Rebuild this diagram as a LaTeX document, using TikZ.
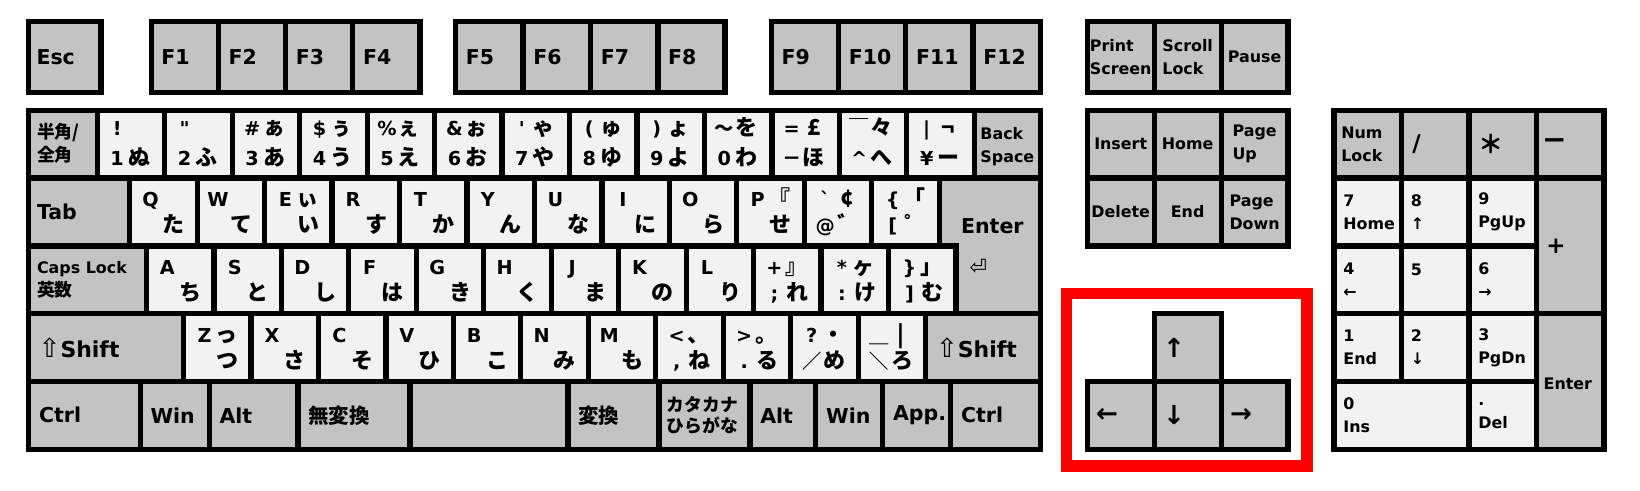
\documentclass[tikz,border=0pt]{standalone}
\usepackage{fontspec}
\setmainfont{DejaVu Sans}
\newfontfamily\jp{Noto Sans CJK JP}
\definecolor{keygray}{HTML}{C3C3C3}
\definecolor{keylight}{HTML}{F2F2F2}
\definecolor{markred}{HTML}{FF0000}
\tikzset{
  modkey/.style={draw=black, line width=2.5pt, fill=keygray},
  charkey/.style={draw=black, line width=2.5pt, fill=keylight},
  keytext/.style={font=\bfseries\fontsize{9.8}{11}\selectfont, inner sep=0pt, anchor=west, align=left},
  smalltext/.style={font=\bfseries\fontsize{7.6}{11}\selectfont, inner sep=0pt, anchor=west, align=left},
  latin/.style={font=\bfseries\fontsize{9.2}{10}\selectfont, inner sep=0pt, text height=6.8pt, text depth=0pt},
  kana/.style={font=\jp\bfseries\fontsize{10.5}{11}\selectfont, inner sep=0pt, text height=8.2pt, text depth=1.4pt},
  bigsym/.style={font=\bfseries\fontsize{12.5}{12}\selectfont, inner sep=0pt},
}

\begin{document}
\begin{tikzpicture}[x=0.5pt, y=-0.5pt]
    \fill[white] (0,0) rectangle (1568,469);
    \useasboundingbox (0,0) rectangle (1568,469);

    % Function row
    \draw[modkey] (27.5,20.5) rectangle (96.5,88.5);
    \node[keytext] (esc) at (34.5,54.5) {Esc};
    \foreach \x [count=\f] in {144.5,208.75,273,337.25,435.5,500,564.5,629,737.5,801.75,866,930.25}{
        \draw[modkey] (\x,20.5) rectangle ++(64.25,68);
        \node[keytext] (f\f) at (\x+9.5,54.5) {F\f};
    }

    % Number row
    \draw[modkey] (27.5,105.5) rectangle (93,170.3);
    \node[smalltext, font=\jp\bfseries\fontsize{8.5}{11}\selectfont] (hankaku) at (35,137) {半角/\\全角};
    \foreach \tl/\tr/\bl/\br [count=\i from 0] in {!/{}/1/ぬ, \textquotedbl/{}/2/ふ, \#/ぁ/3/あ, \$/ぅ/4/う, \%/ぇ/5/え, \&/ぉ/6/お, \textquotesingle/ゃ/7/や, {(}/ゅ/8/ゆ, {)}/ょ/9/よ, {\jp 〜}/を/0/わ, =/£/{\jp －}/ほ, {\jp ￣}/々/\textasciicircum/へ, |/¬/¥/ー}{
        \pgfmathsetmacro{\kx}{93+64.5*\i}
        \draw[charkey] (\kx,105.5) rectangle ++(64.5,64.8);
        \node[latin] (a\i-tl) at (\kx+19,122.5) {\tl};
        \node[kana] (a\i-tr) at (\kx+40,122.5) {\tr};
        \node[latin] (a\i-bl) at (\kx+19,151.5) {\bl};
        \node[kana] (a\i-br) at (\kx+40,151.5) {\br};
    }
    \draw[modkey] (931.5,105.5) rectangle (994.5,170.3);
    \node[smalltext] (bksp) at (937,140.3) {Back\\Space};

    % Upper letter row
    \draw[modkey] (27.5,170.3) rectangle (124,235.1);
    \node[keytext] (tab) at (35,202.7) {Tab};
    \foreach \tl/\tr/\bl/\br [count=\i from 0] in {Q/{}/{}/た, W/{}/{}/て, E/ぃ/{}/い, R/{}/{}/す, T/{}/{}/か, Y/{}/{}/ん, U/{}/{}/な, I/{}/{}/に, O/{}/{}/ら, P/『/{}/せ, \textasciigrave/¢/@/゛, \{/「/{[}/゜}{
        \pgfmathsetmacro{\kx}{124+64.5*\i}
        \draw[charkey] (\kx,170.3) rectangle ++(64.5,64.8);
        \node[latin] (b\i-tl) at (\kx+20,190.8) {\tl};
        \node[kana] (b\i-tr) at (\kx+41,190.8) {\tr};
        \node[latin] (b\i-bl) at (\kx+20,215.8) {\bl};
        \node[kana] (b\i-br) at (\kx+42,215.8) {\br};
    }

    % Home row
    \draw[modkey] (27.5,235.1) rectangle (140,299.9);
    \node[smalltext] (caps) at (35,267.5) {Caps Lock\\{\jp\fontsize{8.5}{10.5}\selectfont 英数}};
    \foreach \tl/\tr/\bl/\br [count=\i from 0] in {A/{}/{}/ち, S/{}/{}/と, D/{}/{}/し, F/{}/{}/は, G/{}/{}/き, H/{}/{}/く, J/{}/{}/ま, K/{}/{}/の, L/{}/{}/り, +/』/;/れ, */ヶ/:/け, \}/」/{]}/む}{
        \pgfmathsetmacro{\kx}{140+64.5*\i}
        \draw[charkey] (\kx,235.1) rectangle ++(64.5,64.8);
        \node[latin] (c\i-tl) at (\kx+20,255.6) {\tl};
        \node[kana] (c\i-tr) at (\kx+41,255.6) {\tr};
        \node[latin] (c\i-bl) at (\kx+20,280.6) {\bl};
        \node[kana] (c\i-br) at (\kx+42,280.6) {\br};
    }

    % Enter key
    \draw[modkey] (898,170.3) -- (994.5,170.3) -- (994.5,299.9) -- (914,299.9) -- (914,235.1) -- (898,235.1) -- cycle;
    \node[keytext] (enter) at (918.5,216) {Enter};
    \node[font=\fontsize{10}{10}\selectfont, inner sep=0pt] (ret) at (935.5,255) {⏎};

    % Lower letter row
    \draw[modkey] (27.5,299.9) rectangle (175.5,364.7);
    \node[keytext, font=\bfseries\fontsize{10.5}{11}\selectfont] (lshift) at (36.5,332.3) {{\mdseries\fontsize{12.5}{9}\selectfont ⇧}Shift};
    \foreach \tl/\tr/\bl/\br [count=\i from 0] in {Z/っ/{}/つ, X/{}/{}/さ, C/{}/{}/そ, V/{}/{}/ひ, B/{}/{}/こ, N/{}/{}/み, M/{}/{}/も, </、/{,}/ね, >/。/./る, ?/・/{\jp ／}/め, {\jp ＿}/|/{\jp ＼}/ろ}{
        \pgfmathsetmacro{\kx}{175.5+64.5*\i}
        \draw[charkey] (\kx,299.9) rectangle ++(64.5,64.8);
        \node[latin] (d\i-tl) at (\kx+20,320.4) {\tl};
        \node[kana] (d\i-tr) at (\kx+41,320.4) {\tr};
        \node[latin] (d\i-bl) at (\kx+20,345.4) {\bl};
        \node[kana] (d\i-br) at (\kx+42,345.4) {\br};
    }
    \draw[modkey] (885,299.9) rectangle (994.5,364.7);
    \node[keytext, font=\bfseries\fontsize{10.5}{11}\selectfont] (rshift) at (894.5,332.3) {{\mdseries\fontsize{12.5}{9}\selectfont ⇧}Shift};

    % Bottom row
    \foreach \xa/\xb/\t [count=\i] in {27.5/134/Ctrl, 134/200/Win, 200/285/Alt, 285/392/{\jp 無変換}, 392/543/{}, 543/630/{\jp 変換}, 717/780/Alt, 780/844/Win, 844/909/App., 909/994.5/Ctrl}{
        \draw[modkey] (\xa,364.7) rectangle (\xb,429.5);
        \node[keytext] (m\i) at (\xa+9.5,397.1) {\t};
    }
    \draw[modkey] (630,364.7) rectangle (717,429.5);
    \node[smalltext, font=\jp\bfseries\fontsize{8.5}{10.5}\selectfont] (kanakey) at (637,397.1) {カタカナ\\ひらがな};

    % System keys
    \foreach \t/\x [count=\i] in {Print\\Screen/1039.5, Scroll\\Lock/1103.5, Pause/1167.5}{
        \draw[modkey] (\x,20.5) rectangle ++(64,68);
        \node[smalltext, anchor=center] (sys\i) at (\x+32,54.5) {\t};
    }

    % Navigation keys
    \foreach \t/\x [count=\i] in {Insert/1039.5, Home/1103.5, Page\\Up/1167.5}{
        \draw[modkey] (\x,105.5) rectangle ++(64,64.8);
        \node[smalltext, anchor=center] (nav\i) at (\x+32,137.9) {\t};
    }
    \foreach \t/\x [count=\i] in {Delete/1039.5, End/1103.5, Page\\Down/1167.5}{
        \draw[modkey] (\x,170.3) rectangle ++(64,64.8);
        \node[smalltext, anchor=center] (edit\i) at (\x+32,202.7) {\t};
    }

    % Arrow keys
    \draw[modkey] (1103.5,299.9) rectangle ++(64,64.8);
    \node[bigsym] (up) at (1122.5,332.3) {↑};
    \foreach \t/\x [count=\i] in {←/1039.5, ↓/1103.5, →/1167.5}{
        \draw[modkey] (\x,364.7) rectangle ++(64,64.8);
        \node[bigsym] (arr\i) at (\x+19,397.1) {\t};
    }

    % Highlight
    \draw[markred, line width=5.5pt] (1019.5,280.5) rectangle (1249.5,445.5);

    % Numeric keypad
    \draw[modkey] (1275.5,105.5) rectangle (1340,170.3);
    \node[smalltext] (numlk) at (1282,137.9) {Num\\Lock};
    \draw[modkey] (1340,105.5) rectangle (1404.5,170.3);
    \node[bigsym, anchor=west, font=\bfseries\fontsize{11}{11}\selectfont] (div) at (1350,137.9) {/};
    \draw[modkey] (1404.5,105.5) rectangle (1469,170.3);
    \node[bigsym, anchor=west, font=\jp\bfseries\fontsize{12}{12}\selectfont] (mul) at (1413,137.9) {＊};
    \draw[modkey] (1469,105.5) rectangle (1533.5,170.3);
    \node[bigsym, anchor=west, font=\bfseries\fontsize{14}{14}\selectfont] (sub) at (1474,137.9) {−};
    \foreach \t/\x/\y [count=\i] in {7\\Home/1275.5/170.3, 8\\↑/1340/170.3, 9\\PgUp/1404.5/170.3, 4\\←/1275.5/235.1, 6\\→/1404.5/235.1, 1\\End/1275.5/299.9, 2\\↓/1340/299.9, 3\\PgDn/1404.5/299.9}{
        \draw[charkey] (\x,\y) rectangle ++(64.5,64.8);
        \node[smalltext] (np\i) at (\x+8.5,\y+32.4) {\t};
    }
    \draw[charkey] (1340,235.1) rectangle ++(64.5,64.8);
    \node[smalltext] (np5) at (1348.5,257.5) {5};
    \draw[modkey] (1469,170.3) rectangle (1533.5,299.9);
    \node[bigsym, anchor=west, font=\bfseries\fontsize{11}{11}\selectfont] (add) at (1478,235.1) {+};
    \draw[modkey] (1469,299.9) rectangle (1533.5,429.5);
    \node[smalltext] (npenter) at (1475.5,367) {Enter};
    \draw[charkey] (1275.5,364.7) rectangle (1404.5,429.5);
    \node[smalltext] (np0) at (1284,397.1) {0\\Ins};
    \draw[charkey] (1404.5,364.7) rectangle (1469,429.5);
    \node[smalltext] (npdot) at (1413,397.1) {.\\Del};
\end{tikzpicture}
\end{document}
